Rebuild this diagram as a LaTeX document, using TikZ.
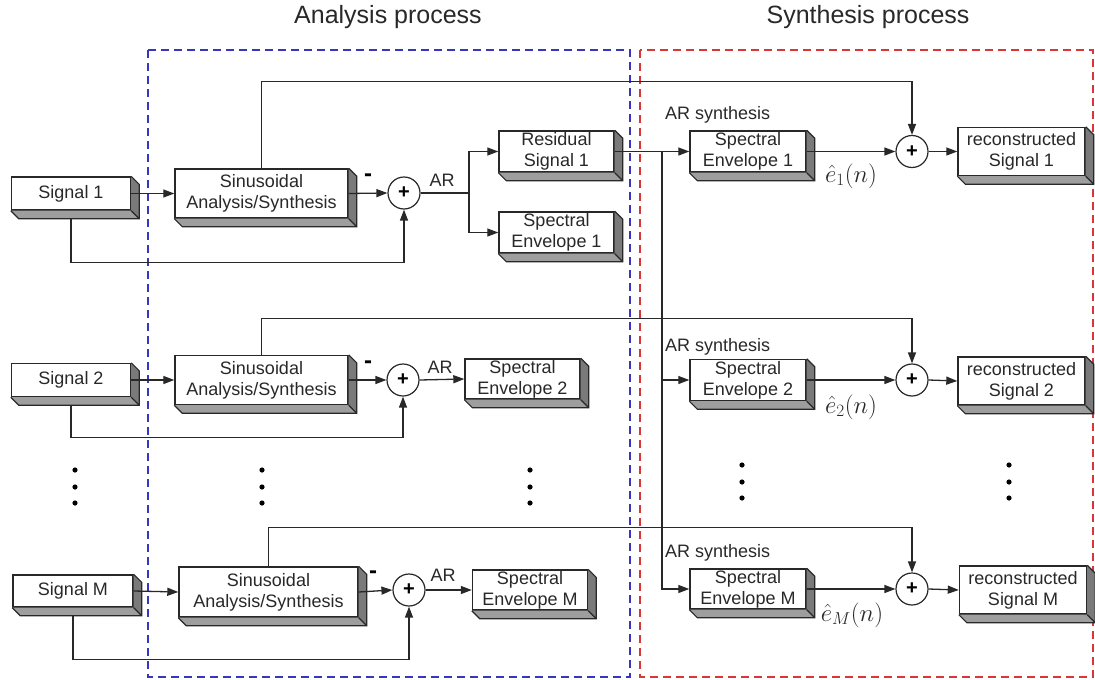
\documentclass[tikz,border=0pt]{standalone}
\usepackage{fontspec}
\setmainfont{Liberation Sans}
\usetikzlibrary{arrows.meta,calc}
\definecolor{anablue}{RGB}{55,55,190}
\definecolor{synred}{RGB}{215,55,55}
\definecolor{ink}{RGB}{40,40,40}
\newcommand{\boxext}[1]{%
  \fill[black!38] (#1.south west) -- ++(8,8) -- ($(#1.south east)+(8,8)$) -- (#1.south east) -- cycle;
  \fill[black!52] (#1.south east) -- ++(8,8) -- ($(#1.north east)+(8,8)$) -- (#1.north east) -- cycle;
  \draw[edge] (#1.south west) -- ++(8,8) -- ($(#1.south east)+(8,8)$) -- ($(#1.north east)+(8,8)$) -- (#1.north east);
  \draw[edge] (#1.south east) -- ++(8,8);
}
\begin{document}
\begin{tikzpicture}[x=1pt,y=-1pt,
  edge/.style={draw=ink, line width=1.2pt},
  blk/.style={draw=ink, line width=1.4pt, fill=white, align=center, inner sep=0pt,
    text=ink, font=\fontsize{18}{21}\selectfont},
  sigbox/.style={blk, minimum width=119pt, minimum height=33pt},
  sinbox/.style={blk, minimum width=173pt, minimum height=49pt},
  envbox/.style={blk, minimum width=115pt, minimum height=41pt},
  recbox/.style={blk, minimum width=127pt, minimum height=48pt},
  sumc/.style={circle, draw=ink, line width=1.2pt, fill=white, minimum size=32pt,
    inner sep=0pt, text=black, font=\bfseries\fontsize{20}{20}\selectfont},
  wire/.style={draw=ink, line width=1.3pt},
  arr/.style={wire, -{Triangle[length=11pt,width=8pt]}},
  lbl/.style={inner sep=0pt, text=ink, font=\fontsize{18}{21}\selectfont},
  minus/.style={inner sep=0pt, text=black, font=\bfseries\fontsize{24}{24}\selectfont},
  title/.style={inner sep=0pt, text=ink, font=\fontsize{25}{30}\selectfont},
  mlbl/.style={inner sep=0pt, text=ink, font=\fontsize{25}{27}\selectfont},
  dotc/.style={fill=black, radius=2.6pt},
  dashbox/.style={line width=1.3pt, dash pattern=on 8pt off 5pt}
]
\useasboundingbox (0,0) rectangle (1095,680);

% process frames
\draw[dashbox, draw=anablue] (148,50) rectangle (630,677);
\draw[dashbox, draw=synred] (640,50) rectangle (1093,677);
\node[title] (tana) at (388,17) {Analysis process};
\node[title] (tsyn) at (868,17) {Synthesis process};

% ---------- row 1 ----------
\node[sigbox] (sig1) at (71,193.5) {Signal 1};
\node[sinbox] (sin1) at (261.5,193.5) {Sinusoidal\\Analysis/Synthesis};
\node[sumc] (p1) at (404,193) {+};
\node[envbox] (res1) at (556.5,151.5) {Residual\\Signal 1};
\node[envbox] (sea1) at (556.5,232.5) {Spectral\\Envelope 1};
\node[envbox, minimum width=116pt] (ses1) at (748,151.5) {Spectral\\Envelope 1};
\node[sumc] (q1) at (912,151.5) {+};
\node[recbox] (rec1) at (1021.5,151.5) {reconstructed\\Signal 1};

% ---------- row 2 ----------
\node[sigbox] (sig2) at (71,380) {Signal 2};
\node[sinbox] (sin2) at (261.5,380) {Sinusoidal\\Analysis/Synthesis};
\node[sumc] (p2) at (403,380) {+};
\node[envbox, minimum height=40pt] (sea2) at (522.5,379) {Spectral\\Envelope 2};
\node[envbox, minimum width=116pt] (ses2) at (748,380) {Spectral\\Envelope 2};
\node[sumc] (q2) at (912,380) {+};
\node[recbox] (rec2) at (1021.5,381) {reconstructed\\Signal 2};

% ---------- row M ----------
\node[sigbox, minimum width=120pt, minimum height=32pt] (sigM) at (73,591) {Signal M};
\node[sinbox, minimum width=179pt, minimum height=50pt] (sinM) at (268.5,592) {Sinusoidal\\Analysis/Synthesis};
\node[sumc] (pM) at (409,590) {+};
\node[envbox, minimum height=40pt] (seaM) at (530,590) {Spectral\\Envelope M};
\node[envbox, minimum width=116pt, minimum height=40pt] (sesM) at (748,589) {Spectral\\Envelope M};
\node[sumc] (qM) at (912,589) {+};
\node[recbox] (recM) at (1023,590) {reconstructed\\Signal M};

% lines leaving the signal boxes downward (start hidden by the box depth)
\draw[arr] (sig1.south) -- ++(0,52) -| (p1.south);
\draw[arr] (sig2.south) -- ++(0,40) -| (p2.south);
\draw[arr] (sigM.south) -- ++(0,52) -| (pM.south);

% 3D depth of the boxes
\foreach \b in {sig1,sin1,res1,sea1,ses1,rec1,sig2,sin2,sea2,ses2,rec2,sigM,sinM,seaM,sesM,recM}{\boxext{\b}}

% ---------- row 1 connectors ----------
\draw[arr] (sig1.east) -- (sin1.west);
\draw[arr] (sin1.east) -- (p1.west);
\node[minus] (m1) at (368,178) {-};
\coordinate (j1) at (469,193);
\draw[wire] (p1.east) -- (j1);
\node[lbl] (ar1) at (442,180) {AR};
\draw[arr] (j1) |- (res1.west);
\draw[arr] (j1) |- (sea1.west);
\draw[arr] (sin1.north) -- ++(0,-87) -| (q1.north);
\draw[arr] (res1.east) -- (ses1.west);
\coordinate (v) at (662,0);
\draw[arr] (res1.east -| v) |- (sesM.west);
\draw[arr] (ses2.west -| v) -- (ses2.west);
\node[lbl, anchor=west] (ars1) at (665,115) {AR synthesis};
\draw[arr] (ses1.east) -- (q1.west);
\node[mlbl] (e1) at (851,176) {$\hat{e}_1(n)$};
\draw[arr] (q1.east) -- (rec1.west);

% ---------- row 2 connectors ----------
\draw[arr] (sig2.east) -- (sin2.west);
\draw[arr] (sin2.east) -- (p2.west);
\node[minus] (m2) at (368,365) {-};
\draw[arr] (p2.east) -- (sea2.west);
\node[lbl] (ar2) at (440,367) {AR};
\draw[arr] (sin2.north) -- ++(0,-36) -| (q2.north);
\node[lbl, anchor=west] (ars2) at (665,347) {AR synthesis};
\draw[arr] (ses2.east) -- (q2.west);
\node[mlbl] (e2) at (851,407) {$\hat{e}_2(n)$};
\draw[arr] (q2.east) -- (rec2.west);

% ---------- row M connectors ----------
\draw[arr] (sigM.east) -- (sinM.west);
\draw[arr] (sinM.east) -- (pM.west);
\node[minus] (mM) at (373,575) {-};
\draw[arr] (pM.east) -- (seaM.west);
\node[lbl] (arM) at (443,575) {AR};
\draw[arr] (sinM.north) -- ++(0,-39) -| (qM.north);
\node[lbl, anchor=west] (arsM) at (665,553) {AR synthesis};
\draw[arr] (sesM.east) -- (qM.west);
\node[mlbl] (eM) at (852,615) {$\hat{e}_M(n)$};
\draw[arr] (qM.east) -- (recM.west);

% ellipsis dots
\foreach \x in {75,262,530}{\foreach \y in {470,487,503}{\fill[dotc] (\x,\y) circle;}}
\foreach \x in {742,1009}{\foreach \y in {465,482,498}{\fill[dotc] (\x,\y) circle;}}
\end{tikzpicture}
\end{document}
